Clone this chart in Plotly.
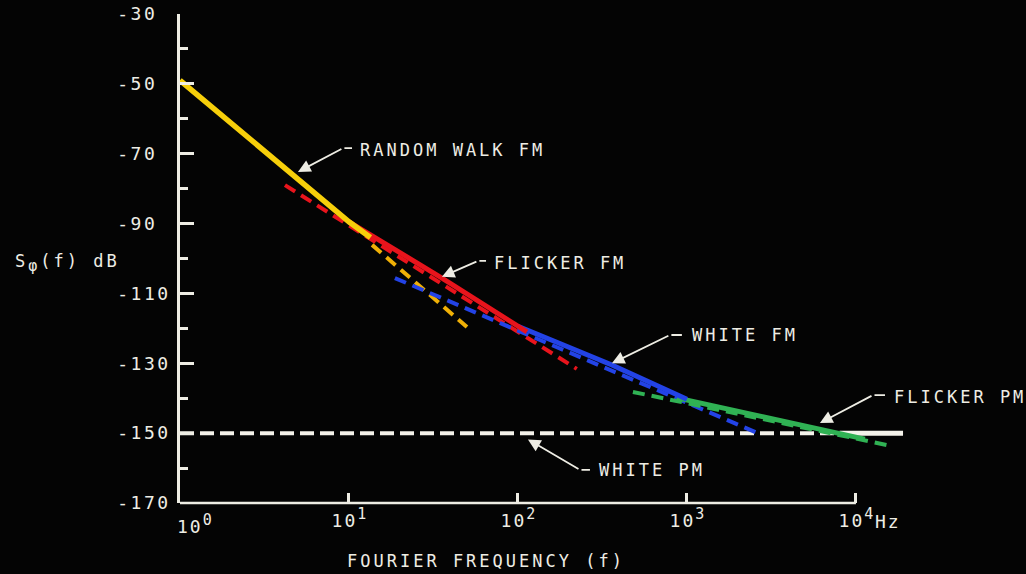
import math
import plotly.graph_objects as go

# ---------------- data ----------------
# frequencies in Hz, levels in dB
yellow_solid_f = [1, 10, 13.4]
yellow_solid_db = [-49.0, -89.5, -94.0]
yellow_dash_f = [13.7, 49.9]
yellow_dash_db = [-96.1, -119.6]

red_solid_f = [10, 35.5, 113]
red_solid_db = [-89.5, -105.6, -121.0]
red_dash_f = [4.18, 223]
red_dash_db = [-79.0, -131.6]

blue_solid_f = [100, 360, 1000]
blue_solid_db = [-119.4, -130.5, -140.3]
blue_dash_f = [18.7, 2630]
blue_dash_db = [-105.6, -150.0]

green_solid_f = [873, 11300]
green_solid_db = [-139.9, -151.7]
green_dash_f = [479, 16330]
green_dash_db = [-138.2, -153.7]

white_dash_f = [1, 8000]
white_dash_db = [-150.0, -150.0]
white_solid_f = [8000, 19000]
white_solid_db = [-150.0, -150.0]

y_tick_vals = [-170, -150, -130, -110, -90, -70, -50, -30]
y_tick_labels = ["-170", "-150", "-130", "-110", "-90", "-70", "-50", "-30"]
x_tick_vals = [1, 10, 100, 1000, 10000]
x_tick_exps = ["0", "1", "2", "3", "4"]

# ---------------- style ----------------
FONT = "DejaVu Sans Mono"
FG = "#EEEDE4"
BG = "#040404"
X_RANGE = [0, 4.32]
Y_RANGE = [-170, -30]

YELLOW = "#F7CF0A"
YELLOW_D = "#F0B006"
RED = "#E8141C"
BLUE = "#2343E6"
GREEN = "#30B254"
WHITE = "#F4F2EA"


def spaced(txt, px=3):
    return f'<span style="letter-spacing:{px}px">{txt}</span>'


fig = go.Figure()


def add_line(f, db, color, width, dash=None):
    fig.add_trace(go.Scatter(
        x=f, y=db, mode="lines",
        line=dict(color=color, width=width, dash=dash or "solid"),
        hoverinfo="skip", showlegend=False))


DASH = "12px,7px"
add_line(white_dash_f, white_dash_db, WHITE, 4, "14px,6px")
add_line(yellow_dash_f, yellow_dash_db, YELLOW_D, 4, DASH)
add_line(red_dash_f, red_dash_db, RED, 4, DASH)
add_line(blue_dash_f, blue_dash_db, BLUE, 4, DASH)
add_line(green_dash_f, green_dash_db, GREEN, 4, DASH)
add_line(white_solid_f, white_solid_db, WHITE, 5)
add_line(green_solid_f, green_solid_db, GREEN, 5)
add_line(blue_solid_f, blue_solid_db, BLUE, 5)
add_line(red_solid_f, red_solid_db, RED, 5)
add_line(yellow_solid_f, yellow_solid_db, YELLOW, 5.5)

# ---------------- labels with arrows ----------------
# (text, text_x(log10 f), text_y, end_x, kink_x, kink_y, head_x, head_y)
labels = [
    ("RANDOM WALK FM", 1.053, -68.9, 1.018, 0.964, -68.4, 0.698, -75.2),
    ("FLICKER FM", 1.846, -101.3, 1.811, 1.763, -100.7, 1.550, -105.2),
    ("WHITE FM", 3.018, -121.9, 2.970, 2.899, -121.9, 2.556, -130.0),
    ("FLICKER PM", 4.213, -139.6, 4.172, 4.101, -139.1, 3.787, -147.1),
    ("WHITE PM", 2.467, -160.5, 2.426, 2.367, -160.5, 2.059, -151.8),
]
annotations = []
for txt, tx, ty, ex, kx, ky, hx, hy in labels:
    annotations.append(dict(
        x=tx, y=ty, xref="x", yref="y", text=spaced(txt), showarrow=False,
        xanchor="left", yanchor="middle",
        font=dict(family=FONT, size=17, color=FG)))
    annotations.append(dict(
        x=hx, y=hy, ax=kx, ay=ky, xref="x", yref="y", axref="x", ayref="y",
        text="", showarrow=True, arrowhead=2, arrowsize=1.4, arrowwidth=1.8,
        arrowcolor=FG, standoff=0, startstandoff=0))
    annotations.append(dict(
        x=ex, y=ky, ax=kx, ay=ky, xref="x", yref="y", axref="x", ayref="y",
        text="", showarrow=True, arrowhead=0, arrowwidth=1.8,
        arrowcolor=FG, standoff=0, startstandoff=0))

# axis titles and extra tick text
annotations.append(dict(
    x=(345 - 180) / 730, y=-0.118, xref="paper", yref="paper",
    text=spaced("FOURIER FREQUENCY (f)"), showarrow=False,
    xanchor="left", yanchor="middle", font=dict(family=FONT, size=17, color=FG)))
annotations.append(dict(
    x=-0.229, y=0.49, xref="paper", yref="paper",
    text=spaced('S<sub><span style="font-size:15px">φ</span></sub>(f)\u00a0dB'),
    showarrow=False,
    xanchor="left", yanchor="middle", font=dict(family=FONT, size=17, color=FG)))


def xlab(e):
    return (spaced("10", 2) +
            f'<sup><span style="font-size:15px">{e}</span></sup>')


annotations.append(dict(
    x=0.0205, y=-0.012, xref="paper", yref="paper",
    text=xlab(x_tick_exps[0]), showarrow=False,
    xanchor="center", yanchor="top", font=dict(family=FONT, size=18, color=FG)))
annotations.append(dict(
    x=(873 - 180) / 730, y=-0.038, xref="paper", yref="paper",
    text=spaced("Hz", 2), showarrow=False,
    xanchor="left", yanchor="middle", font=dict(family=FONT, size=18, color=FG)))

fig.update_layout(
    width=1026, height=574,
    margin=dict(l=180, r=116, t=14, b=71, autoexpand=False),
    paper_bgcolor=BG, plot_bgcolor=BG,
    annotations=annotations,
    shapes=[dict(type="line", xref="paper", yref="paper",
                 x0=0, x1=4 / X_RANGE[1], y0=0, y1=0,
                 line=dict(color=FG, width=2.5), layer="above")],
)

fig.update_xaxes(
    type="log", range=X_RANGE, showgrid=False, zeroline=False, showline=False,
    automargin=False,
    tickvals=x_tick_vals,
    ticktext=[""] + [xlab(e) for e in x_tick_exps[1:]],
    ticks="inside", ticklen=10, tickwidth=2.5, tickcolor=FG,
    ticklabelstandoff=5,
    tickfont=dict(family=FONT, size=18, color=FG),
)
fig.update_yaxes(
    range=Y_RANGE, showgrid=False, zeroline=False, automargin=False,
    showline=True, linecolor=FG, linewidth=2.5,
    tickvals=y_tick_vals,
    ticktext=[spaced(t + "\u00a0" * (4 - len(t)), 2.5) for t in y_tick_labels],
    ticks="inside", ticklen=14, tickwidth=2.5, tickcolor=FG,
    ticklabelstandoff=3,
    tickfont=dict(family=FONT, size=18, color=FG),
    minor=dict(ticks="inside", ticklen=8, tickwidth=2.5, tickcolor=FG,
               dtick=10, tick0=-170),
)

fig.write_html("out.html", config={"displayModeBar": False})
